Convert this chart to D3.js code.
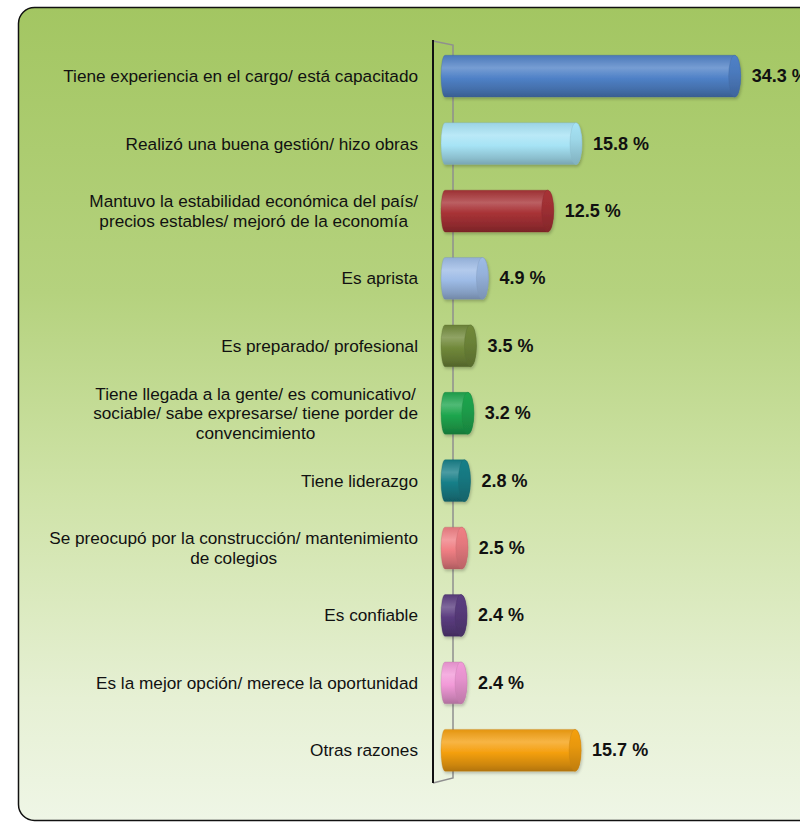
<!DOCTYPE html>
<html><head><meta charset="utf-8">
<script src="https://cdn.jsdelivr.net/npm/d3@7"></script>
<style>html,body{margin:0;padding:0;background:#fff;}svg{display:block;}</style>
</head><body>
<script>
const categories = [
  ["Tiene experiencia en el cargo/ está capacitado"],
  ["Realizó una buena gestión/ hizo obras"],
  ["Mantuvo la estabilidad económica del país/", "precios estables/ mejoró de la economía"],
  ["Es aprista"],
  ["Es preparado/ profesional"],
  ["Tiene llegada a la gente/ es comunicativo/", "sociable/ sabe expresarse/ tiene porder de", "convencimiento"],
  ["Tiene liderazgo"],
  ["Se preocupó por la construcción/ mantenimiento", "de colegios"],
  ["Es confiable"],
  ["Es la mejor opción/ merece la oportunidad"],
  ["Otras razones"]
];
const values = [34.3, 15.8, 12.5, 4.9, 3.5, 3.2, 2.8, 2.5, 2.4, 2.4, 15.7];
const baseColors = ["#4f81c7","#a6e3f5","#a83236","#9dbbe6","#71893a","#1fa64e","#177f88","#f07f84","#5b3d80","#f29ad8","#f5a011"];

const W = 800, H = 822;
const svg = d3.select("body").append("svg").attr("width", W).attr("height", H);
const defs = svg.append("defs");

// background
const bg = defs.append("linearGradient").attr("id","bg").attr("x1",0).attr("y1",0).attr("x2",0).attr("y2",1);
[[0,"#a3c662"],[0.35,"#b5d27e"],[0.6,"#cfe3a8"],[0.85,"#e6f0d4"],[1,"#eff6e6"]].forEach(s=>bg.append("stop").attr("offset",s[0]).attr("stop-color",s[1]));
svg.append("rect").attr("x",18.5).attr("y",7.5).attr("width",820).attr("height",813)
  .attr("rx",16).attr("ry",16).attr("fill","url(#bg)").attr("stroke","#111").attr("stroke-width",1.5);

const ids = categories.map((c,i)=>"c"+i);
const y = d3.scaleBand().domain(ids).range([42.5, 784]).paddingInner(0.38).paddingOuter(0.19);
const x = d3.scaleLinear().domain([0, 35]).range([446.4, 446.4 + 35*8.58]);
const lead = 5.4; // depth of the cylinder's left end, drawn left of zero

// axis wall
const wall = svg.append("g");
const yTop = 40, yBot = 783;
wall.append("path").attr("d", `M433,${yTop+1} L453,${yTop+5} L453,${yBot-5} L433,${yBot}`)
  .attr("fill","none").attr("stroke","#8f8f8f").attr("stroke-width",1.5);
wall.append("line").attr("x1",433).attr("x2",433).attr("y1",yTop).attr("y2",yBot)
  .attr("stroke","#111").attr("stroke-width",2);

const shadow = defs.append("filter").attr("id","sh").attr("x","-10%").attr("y","-20%").attr("width","130%").attr("height","160%");
shadow.append("feDropShadow").attr("dx",1).attr("dy",2).attr("stdDeviation",1.5).attr("flood-color","#000").attr("flood-opacity",0.22);

categories.forEach((c,i)=>{
  const col = d3.color(baseColors[i]);
  const light = d3.interpolateRgb(col, "#ffffff")(0.22);
  const dark = col.darker(0.9);
  const g = defs.append("linearGradient").attr("id","g"+i).attr("x1",0).attr("y1",0).attr("x2",0).attr("y2",1);
  [[0, col.darker(0.2)],[0.3, light],[0.55, col],[0.85, col.darker(0.5)],[1, dark]].forEach(s=>g.append("stop").attr("offset",s[0]).attr("stop-color",s[1]));
  const gc = defs.append("linearGradient").attr("id","gc"+i).attr("x1",0).attr("y1",0).attr("x2",0).attr("y2",1);
  [[0, col],[0.4, col.darker(0.15)],[1, col.darker(0.7)]].forEach(s=>gc.append("stop").attr("offset",s[0]).attr("stop-color",s[1]));
});

const bars = svg.append("g").selectAll("g").data(values).join("g").attr("filter","url(#sh)");
const rx = 6;
bars.each(function(v,i){
  const gEl = d3.select(this);
  const y0 = y(ids[i]), h = y.bandwidth(), y1 = y0 + h, ry = h/2;
  const x0 = x(0) - lead, xe = x(v) - rx;
  gEl.append("path")
    .attr("d", `M${x0+4},${y0} L${xe},${y0} A${rx},${ry} 0 0 1 ${xe},${y1} L${x0+4},${y1} A4,${ry} 0 0 1 ${x0+4},${y0} Z`)
    .attr("fill", `url(#g${i})`).attr("stroke", d3.color(baseColors[i]).darker(0.8)).attr("stroke-width",0.6).attr("stroke-opacity",0.5);
  gEl.append("ellipse").attr("cx", xe).attr("cy", y0+ry).attr("rx", rx).attr("ry", ry)
    .attr("fill", `url(#gc${i})`).attr("stroke", d3.color(baseColors[i]).darker(0.6)).attr("stroke-width",0.6).attr("stroke-opacity",0.6);
});

// value labels
svg.append("g").selectAll("text").data(values).join("text")
  .attr("x", (v)=>x(v) + 11)
  .attr("y", (v,i)=>y(ids[i]) + y.bandwidth()/2 + 6)
  .attr("font-family","Liberation Sans, Arial, sans-serif").attr("font-weight","bold").attr("font-size",18)
  .attr("fill","#111").text(v=>v.toFixed(1) + " %");

// category labels (centered block, right aligned)
const fs = 17.2;
const ctx = document.createElement("canvas").getContext("2d");
ctx.font = fs + "px 'Liberation Sans', Arial, sans-serif";
const lab = svg.append("g");
categories.forEach((lines,i)=>{
  const widths = lines.map(l=>ctx.measureText(l).width);
  const maxW = Math.max(...widths);
  const cx = 418 - maxW/2;
  const cy = y(ids[i]) + y.bandwidth()/2;
  const lh = 19.5;
  lines.forEach((l,k)=>{
    lab.append("text").attr("x", cx).attr("y", cy + (k - (lines.length-1)/2)*lh + 6)
      .attr("text-anchor","middle")
      .attr("font-family","Liberation Sans, Arial, sans-serif").attr("font-size",fs)
      .attr("fill","#111").text(l);
  });
});
</script>
</body></html>
